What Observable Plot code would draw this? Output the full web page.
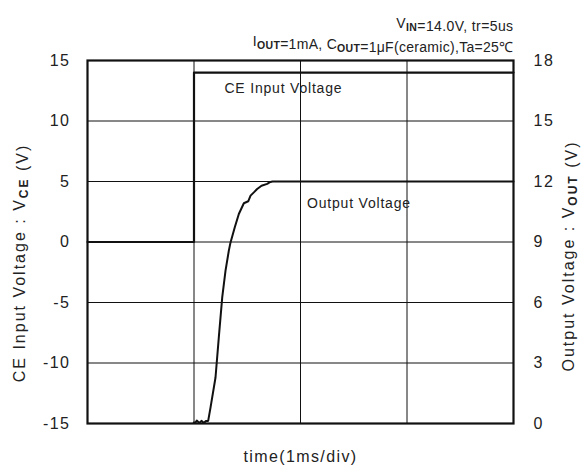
<!DOCTYPE html>
<html>
<head>
<meta charset="utf-8">
<script src="https://cdn.jsdelivr.net/npm/d3@7"></script>
<script src="https://cdn.jsdelivr.net/npm/@observablehq/plot@0.6"></script>
<style>
  html, body { margin: 0; padding: 0; background: #fff; }
  svg { font-family: "Liberation Sans", Arial, sans-serif; }
</style>
</head>
<body>
<div id="chart"></div>
<script>
// CE input voltage (left axis, V) vs time (ms, 1 ms/div)
const ceTime = [0, 1, 1, 4];
const ceVolt = [0, 0, 14, 14];

// Output voltage (right axis, V) vs time (ms)
const outTime = [0.998, 1.014, 1.026, 1.049, 1.070, 1.092, 1.115, 1.133, 1.155, 1.202, 1.233, 1.265, 1.296, 1.327, 1.343, 1.383, 1.421, 1.468, 1.509, 1.531, 1.562, 1.593, 1.634, 1.687, 1.709, 1.737, 4.0];
const outVolt = [0.05, 0.05, 0.15, 0.03, 0.13, 0.03, 0.13, 0.13, 0.79, 2.28, 4.27, 6.25, 7.58, 8.57, 8.98, 9.73, 10.39, 10.92, 11.02, 11.30, 11.46, 11.63, 11.79, 11.88, 11.96, 12.0, 12.0];

// Axis ticks
const leftTicks = [-15, -10, -5, 0, 5, 10, 15];
const rightTicks = [0, 3, 6, 9, 12, 15, 18];
const xGrid = [1, 2, 3];
const yGrid = [-10, -5, 0, 5, 10];

// In-plot annotations (data units: time ms, CE volts)
const annoText = ["CE Input Voltage", "Output Voltage"];
const annoTime = [1.286, 2.061];
const annoVolt = [12.68, 3.21];

const leftMin = -15, leftMax = 15, rightMin = 0, rightMax = 18;
const toLeft = v => leftMin + (v - rightMin) * (leftMax - leftMin) / (rightMax - rightMin);

const ce = ceTime.map((t, i) => ({t, v: ceVolt[i]}));
const out = outTime.map((t, i) => ({t, v: toLeft(outVolt[i])}));
const anno = annoText.map((s, i) => ({s, t: annoTime[i], v: annoVolt[i]}));
const rightLabelMap = new Map(rightTicks.map(r => [toLeft(r), r]));

const ink = "#111";
const chart = Plot.plot({
  width: 582,
  height: 467,
  marginLeft: 87,
  marginRight: 69,
  marginTop: 60,
  marginBottom: 44,
  style: {fontFamily: '"Liberation Sans", Arial, sans-serif', background: "#fff"},
  x: {domain: [0, 4], axis: null},
  y: {domain: [leftMin, leftMax], axis: null},
  marks: [
    Plot.gridX(xGrid, {stroke: ink, strokeOpacity: 1, strokeWidth: 1}),
    Plot.gridY(yGrid, {stroke: ink, strokeOpacity: 1, strokeWidth: 1}),
    Plot.line(ce, {x: "t", y: "v", stroke: ink, strokeWidth: 2.2}),
    Plot.line(out, {x: "t", y: "v", stroke: ink, strokeWidth: 2}),
    Plot.frame({stroke: ink, strokeWidth: 2.2}),
    Plot.axisY({ticks: leftTicks, tickSize: 0, tickPadding: 17, fontSize: 16, label: null, tickFormat: d => String(d), fill: "#222", className: "ticks-left"}),
    Plot.axisY({anchor: "right", ticks: leftTicks, tickSize: 0, tickPadding: 20, fontSize: 16, label: null, tickFormat: d => rightLabelMap.get(d), fill: "#222", className: "ticks-right"}),
    Plot.text(anno, {x: "t", y: "v", text: "s", textAnchor: "start", fontSize: 14, fill: "#222", className: "anno"}),
    Plot.text(["time(1ms/div)"], {frameAnchor: "bottom", lineAnchor: "middle", dy: 33, fontSize: 16, fill: "#222", className: "xlabel"}),
    Plot.text(["CE Input Voltage : VCE (V)"], {frameAnchor: "left", textAnchor: "middle", lineAnchor: "middle", dx: -68, dy: 21, rotate: -90, fontSize: 16, fill: "#222", className: "ylabel-left"}),
    Plot.text(["Output Voltage : VOUT (V)"], {frameAnchor: "right", textAnchor: "middle", lineAnchor: "middle", dx: 55, dy: 14, rotate: -90, fontSize: 16, fill: "#222", className: "ylabel-right"}),
    Plot.text(["VIN=14.0V, tr=5us"], {frameAnchor: "top-right", textAnchor: "end", lineAnchor: "middle", dy: -37, fontSize: 14, fill: "#222", className: "title1"}),
    Plot.text(["IOUT=1mA, COUT=1μF(ceramic),Ta=25℃"], {frameAnchor: "top-right", textAnchor: "end", lineAnchor: "middle", dy: -19, fontSize: 14, fill: "#222", className: "title2"})
  ]
});

const svg = d3.select(chart);
svg.selectAll("g.ticks-left text, g.ticks-right text").style("letter-spacing", "1.5px");
svg.selectAll("g.xlabel text").style("letter-spacing", "1.4px");
svg.selectAll("g.anno text").style("letter-spacing", "0.8px");

function richText(sel, parts, ls) {
  const t = svg.select(sel);
  t.text(null).style("letter-spacing", ls);
  for (const [str, sub] of parts) {
    if (sub) {
      t.append("tspan").attr("font-size", "0.75em").attr("font-weight", "bold").attr("dy", "3").text(str);
      t.append("tspan").attr("dy", "-3").text("");
    } else {
      t.append("tspan").text(str);
    }
  }
}
richText("g.ylabel-left text", [["CE Input Voltage : V", false], ["CE", true], [" (V)", false]], "2px");
richText("g.ylabel-right text", [["Output Voltage : V", false], ["OUT", true], [" (V)", false]], "2px");
richText("g.title1 text", [["V", false], ["IN", true], ["=14.0V, tr=5us", false]], "0.4px");
richText("g.title2 text", [["I", false], ["OUT", true], ["=1mA, C", false], ["OUT", true], ["=1μF(ceramic),Ta=25℃", false]], "0.3px");

document.getElementById("chart").appendChild(chart);
</script>
</body>
</html>
